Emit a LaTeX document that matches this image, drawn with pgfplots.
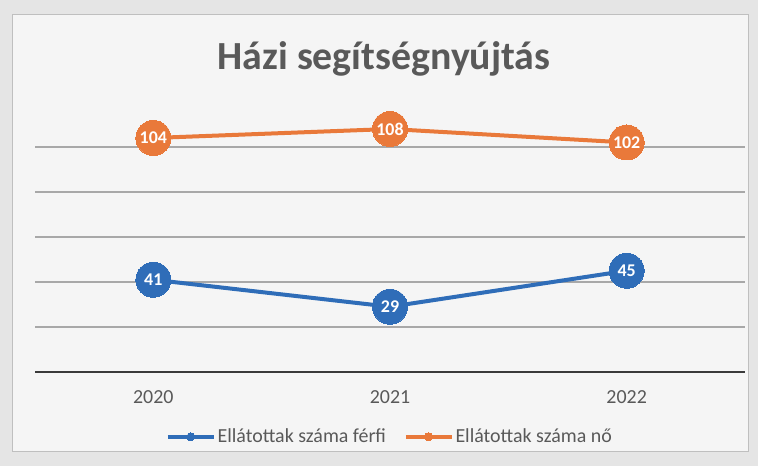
\documentclass[border=0pt]{standalone}
\usepackage{pgfplots}
\pgfplotsset{compat=1.18}
\usepackage{fontspec}
\setmainfont{Carlito}
\definecolor{serblue}{HTML}{2F6DB8}
\definecolor{serorange}{HTML}{E9793A}
\definecolor{txtgray}{HTML}{595959}
\definecolor{gridgray}{HTML}{A8A8A8}
\definecolor{axisdark}{HTML}{3A3A3A}
\begin{document}
\begin{tikzpicture}[x=1bp,y=1bp]
\fill[black!10] (0,0) rectangle (758,466);
\fill[white!96!black, draw=black!25, line width=1bp] (12,14) rectangle (748,451);
\node[font=\fontsize{40}{48}\selectfont\bfseries, text=txtgray] at (384,407) {Házi segítségnyújtás};
\begin{axis}[
  at={(35bp,94bp)}, anchor=south west,
  scale only axis, width=710bp, height=270bp,
  xmin=-0.5, xmax=2.5, ymin=0, ymax=120,
  clip=false,
  /pgf/number format/assume math mode=true,
  axis x line*=bottom, axis y line*=left,
  x axis line style={draw=axisdark, line width=2.5bp, -},
  y axis line style={draw=none},
  xtick={0,1,2}, xticklabels={2020,2021,2022},
  ytick={20,40,60,80,100}, yticklabels={},
  major tick length=0pt,
  ymajorgrids, grid style={draw=gridgray, line width=1.5bp},
  xticklabel style={font=\fontsize{20}{24}\selectfont, text=txtgray, yshift=-15bp},
  legend columns=2,
  legend style={at={(axis description cs:0.5,-0.24)}, anchor=center, draw=none, fill=none,
    font=\fontsize{20}{24}\selectfont, text=txtgray,
    /tikz/every even column/.append style={column sep=16bp}},
  legend image code/.code={\draw[#1,mark size=4bp,line width=3.5bp,mark repeat=2,mark phase=2] plot coordinates {(0bp,0bp) (23bp,0bp) (46bp,0bp)};},
  nodes near coords,
  nodes near coords style={anchor=center, text=white, font=\fontsize{18}{20}\selectfont\bfseries},
]
\addplot[serblue, line width=4bp, mark=*, mark size=17.5bp, mark options={fill=serblue, draw=serblue, line width=0pt}]
  coordinates {(0,41) (1,29) (2,45)};
\addlegendentry{Ellátottak száma férfi}
\addplot[serorange, line width=4bp, mark=*, mark size=17.5bp, mark options={fill=serorange, draw=serorange, line width=0pt}]
  coordinates {(0,104) (1,108) (2,102)};
\addlegendentry{Ellátottak száma nő}
\end{axis}
\end{tikzpicture}
\end{document}
